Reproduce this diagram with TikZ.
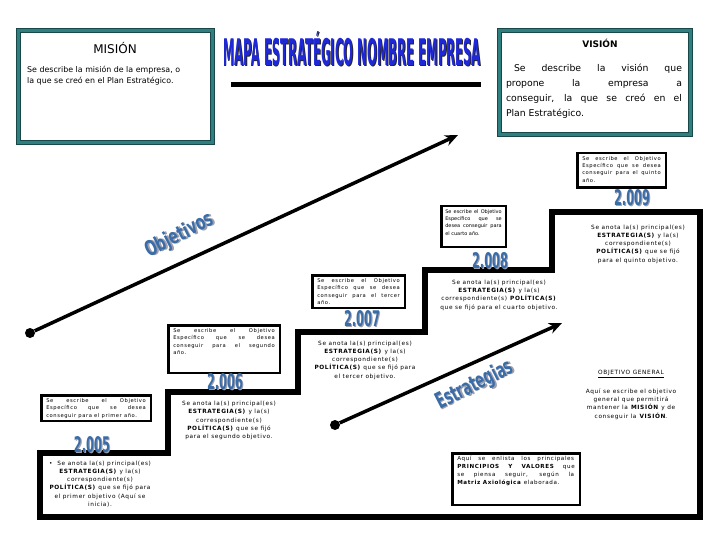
\documentclass[tikz,border=0pt]{standalone}
\usepackage{fontspec}
\setmainfont{DejaVu Sans}
\usepackage{graphicx}
\usetikzlibrary{positioning, arrows.meta}

\newfontfamily\tinysans[LetterSpace=11]{DejaVu Sans}
\definecolor{framteal}{RGB}{46,128,128}
\definecolor{framdark}{RGB}{25,70,70}
\definecolor{titleblue}{RGB}{30,40,215}
\definecolor{yearblue}{RGB}{58,108,168}
\definecolor{shadegray}{RGB}{160,160,172}

% texto con sombra: desplazamiento x, y, color, texto
\newcommand{\shadowed}[4]{\rlap{\kern#1\raisebox{-#2}{\textcolor{#3}{#4}}}#4}
\newcommand{\boxtext}[3]{\parbox[t][#2][t]{#1}{\hyphenpenalty=10000 #3}}

\begin{document}
\begin{tikzpicture}[x=1pt, y=-1pt,
    frame/.style={draw=framdark, double=framteal, double distance=3pt, line width=1.1pt, fill=white},
    objbox/.style={draw, line width=2.5pt, fill=white, inner xsep=5pt, inner ysep=3pt, font=\tinysans\fontsize{5.2}{7.4}\selectfont},
    note/.style={font=\tinysans\fontsize{5.8}{8.3}\selectfont, align=center, inner sep=0pt},
    yearlbl/.style={text=yearblue, font=\bfseries, inner sep=0pt},
    stair/.style={line width=6pt, line join=miter},
    trend/.style={line width=3.5pt, -{Stealth[length=13pt, width=11pt]}},
    dot/.style={circle, fill=black, inner sep=0pt, minimum size=10pt}
]
\useasboundingbox[fill=white] (0,0) rectangle (720,540);

% Misión y visión
\node[frame, minimum width=194pt, minimum height=112pt] (mision) at (115.5,86.5) {};
\node[font=\fontsize{12}{14}\selectfont] (misiontit) at (115,48) {MISIÓN};
\node[font=\fontsize{7.9}{10.5}\selectfont, align=left, anchor=north west, inner sep=0pt] (misiontxt) at (27,66)
  {Se describe la misión de la empresa, o\\la que se creó en el Plan Estratégico.};

\node[frame, minimum width=191pt, minimum height=104pt] (vision) at (595,82.5) {};
\node[font=\bfseries\fontsize{9}{11}\selectfont] (visiontit) at (600,43) {VISIÓN};
\node[font=\fontsize{9.3}{15}\selectfont, text width=176pt, align=justify, inner sep=0pt] (visiontxt) at (594,91)
  {\hspace*{8pt}Se describe la visión que\linebreak propone la empresa a\linebreak conseguir, la que se creó en el\linebreak Plan Estratégico.};

% Título
\node[text=titleblue, inner sep=0pt] (titulo) at (352,49)
  {\resizebox{258pt}{34pt}{\bfseries\shadowed{0.8pt}{0.3pt}{black!85}{MAPA ESTRATÉGICO NOMBRE EMPRESA}}};
\node[fill=black, minimum width=250pt, minimum height=4.5pt, inner sep=0pt] (raya) at (356,84.5) {};

% Escalera
\draw[stair] (40,453) -- (168,453) -- (168,392) -- (298,392) -- (298,332) -- (425,332) -- (425,270)
  -- (552,270) -- (552,212) -- (700,212) -- (700,517) -- (40,517) -- cycle;

% Objetivos específicos
\node[objbox] (obj1) at (96,408) {\boxtext{99.5pt}{19.5pt}{Se escribe el Objetivo\linebreak Específico que se desea\linebreak conseguir para el primer año.}};
\node[objbox] (obj2) at (224,349) {\boxtext{101.5pt}{41.5pt}{Se escribe el Objetivo\linebreak Específico que se desea\linebreak conseguir para el segundo\linebreak año.}};
\node[objbox] (obj3) at (358.5,291.5) {\boxtext{82.5pt}{26.5pt}{Se escribe el Objetivo\linebreak Específico que se desea\linebreak conseguir para el tercer\linebreak año.}};
\node[objbox, inner xsep=4pt, font=\normalfont\fontsize{5}{7.4}\selectfont] (obj4) at (473.5,226.5) {\boxtext{56.5pt}{34.5pt}{Se escribe el Objetivo\linebreak Específico que se\linebreak desea conseguir para\linebreak el cuarto año.}};
\node[objbox] (obj5) at (621.5,170.5) {\boxtext{78.5pt}{28.5pt}{Se escribe el Objetivo\linebreak Específico que se desea\linebreak conseguir para el quinto\linebreak año.}};

% Años
\node[yearlbl] (y1) at (92,445) {\resizebox{36pt}{16pt}{\shadowed{1pt}{0.5pt}{shadegray}{2.005}}};
\node[yearlbl] (y2) at (225,382) {\resizebox{36pt}{16pt}{\shadowed{1pt}{0.5pt}{shadegray}{2.006}}};
\node[yearlbl] (y3) at (362,319) {\resizebox{36pt}{16pt}{\shadowed{1pt}{0.5pt}{shadegray}{2.007}}};
\node[yearlbl] (y4) at (490,261) {\resizebox{36pt}{16pt}{\shadowed{1pt}{0.5pt}{shadegray}{2.008}}};
\node[yearlbl] (y5) at (632,198) {\resizebox{36pt}{16pt}{\shadowed{1pt}{0.5pt}{shadegray}{2.009}}};

% Estrategias y políticas
\node[note] (est1) at (100,484) {\textbullet\ \ Se anota la(s) principal(es)\\ \textbf{ESTRATEGIA(S)} y la(s)\\ correspondiente(s)\\ \textbf{POLÍTICA(S)} que se fijó para\\ el primer objetivo (Aquí se\\ inicia).};
\node[note] (est2) at (229,420.5) {Se anota la(s) principal(es)\\ \textbf{ESTRATEGIA(S)} y la(s)\\ correspondiente(s)\\ \textbf{POLÍTICA(S)} que se fijó\\ para el segundo objetivo.};
\node[note] (est3) at (365,360) {Se anota la(s) principal(es)\\ \textbf{ESTRATEGIA(S)} y la(s)\\ correspondiente(s)\\ \textbf{POLÍTICA(S)} que se fijó para\\ el tercer objetivo.};
\node[note] (est4) at (499,295) {Se anota la(s) principal(es)\\ \textbf{ESTRATEGIA(S)} y la(s)\\ correspondiente(s) \textbf{POLÍTICA(S)}\\ que se fijó para el cuarto objetivo.};
\node[note] (est5) at (638,244) {Se anota la(s) principal(es)\\ \textbf{ESTRATEGIA(S)} y la(s)\\ correspondiente(s)\\ \textbf{POLÍTICA(S)} que se fijó\\ para el quinto objetivo.};

% Objetivo general y valores
\node[note] (objgen) at (631,374) {\underline{OBJETIVO GENERAL}};
\node[note] (objgentxt) at (631,404) {Aquí se escribe el objetivo\\ general que permitirá\\ mantener la \textbf{MISIÓN} y de\\ conseguir la \textbf{VISIÓN}.};
\node[objbox, font=\tinysans\fontsize{5.6}{8}\selectfont] (valores) at (516,479) {\boxtext{117.5pt}{45.5pt}{Aquí se enlista los principales\linebreak \textbf{PRINCIPIOS Y VALORES} que\linebreak se piensa seguir, según la\linebreak \textbf{Matriz Axiológica} elaborada.}};

% Flechas
\node[dot] (objini) at (30,333) {};
\coordinate (objfin) at (458,135);
\draw[trend] (objini) -- (objfin);
\node[dot] (estini) at (335,425) {};
\coordinate (estfin) at (562,323);
\draw[trend] (estini) -- (estfin);

\node[yearlbl, rotate=27] (objlbl) at (180,236) {\resizebox{74pt}{16pt}{\shadowed{1pt}{0.5pt}{shadegray}{Objetivos}}};
\node[yearlbl, rotate=27] (estlbl) at (475,386) {\resizebox{84pt}{17pt}{\shadowed{1pt}{0.5pt}{shadegray}{Estrategias}}};

\end{tikzpicture}
\end{document}
